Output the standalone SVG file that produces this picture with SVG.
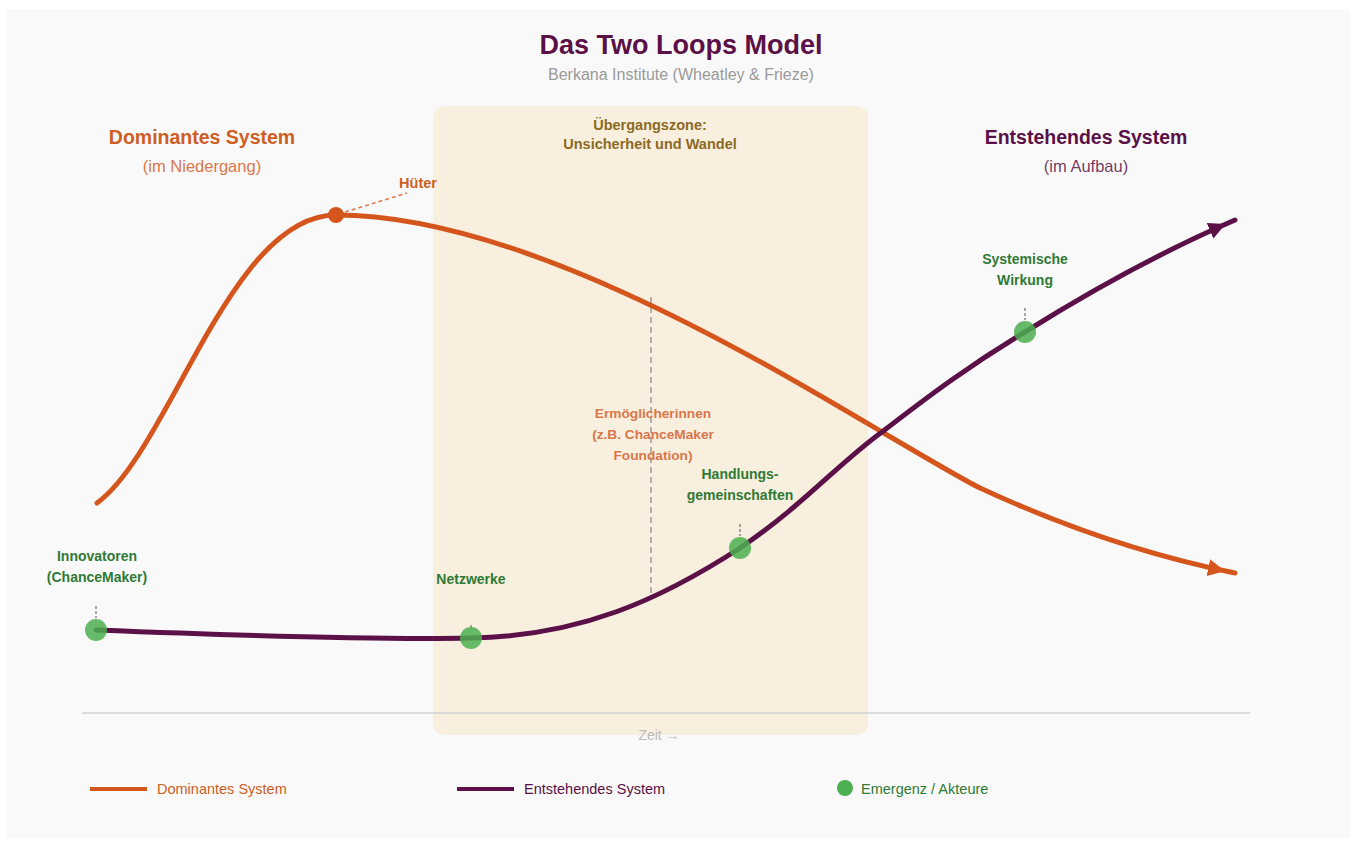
<svg xmlns="http://www.w3.org/2000/svg" width="1357" height="841" viewBox="0 0 1357 841">
<style>
text{font-family:"Liberation Sans",Arial,sans-serif;text-anchor:middle}
.b{font-weight:bold}
.or{fill:#cf5e24}
.orl{fill:#d9774a}
.pu{fill:#5b1047}
.gr{fill:#2f7a34;font-weight:bold;font-size:14px}
.dot{fill:#4caf50;fill-opacity:0.85}
.tick{stroke:#555;stroke-width:1;stroke-dasharray:3,2}
.leg{font-size:14.5px;text-anchor:start}
</style>
<defs>
<marker id="ao" viewBox="0 0 10 10" refX="16" refY="5" markerWidth="17" markerHeight="17" markerUnits="userSpaceOnUse" orient="auto"><path d="M0,0 L10,5 L0,10 z" fill="#d4561c"/></marker>
<marker id="ap" viewBox="0 0 10 10" refX="16" refY="5" markerWidth="17" markerHeight="17" markerUnits="userSpaceOnUse" orient="auto"><path d="M0,0 L10,5 L0,10 z" fill="#5b1047"/></marker>
</defs>
<rect x="0" y="0" width="1357" height="841" fill="#ffffff"/>
<rect x="7" y="9" width="1343" height="829" fill="#f9f9fa"/>
<g id="zone">
<rect x="433" y="106" width="435" height="629" rx="12" fill="#f8efdf"/>
<text x="650" y="130" class="b" font-size="14.5" fill="#8b6a1f">Übergangszone:</text>
<text x="650" y="149" class="b" font-size="14.5" fill="#8b6a1f">Unsicherheit und Wandel</text>
</g>
<g id="title">
<text x="681" y="54" class="b pu" font-size="27">Das Two Loops Model</text>
<text x="681" y="80" font-size="16" fill="#9a9a9a">Berkana Institute (Wheatley &amp; Frieze)</text>
</g>
<g id="header-dominant">
<text x="202" y="144" class="b or" font-size="19.5">Dominantes System</text>
<text x="202" y="172" class="orl" font-size="16.5">(im Niedergang)</text>
</g>
<g id="header-emerging">
<text x="1086" y="144" class="b pu" font-size="19.5">Entstehendes System</text>
<text x="1086" y="172" class="pu" font-size="16.5" fill-opacity="0.85">(im Aufbau)</text>
</g>
<g id="axis">
<line x1="82" y1="713" x2="1250" y2="713" stroke="#d0d0d0" stroke-width="1.5"/>
<text x="659" y="740" font-size="14" fill="#bbbbbb">Zeit →</text>
</g>
<g id="connectors">
<line x1="651" y1="297" x2="651" y2="598" stroke="#999" stroke-width="1.5" stroke-dasharray="6,4"/>
<line x1="345" y1="212" x2="407" y2="193" stroke="#d9774a" stroke-width="1.5" stroke-dasharray="4,3"/>
<path d="M97,503 C170,450 230,215 336,215 C520,215 760,360 882,432 C930,460 960,478 980,488 C1060,525 1150,556 1235,573" fill="none" stroke="#d4561c" stroke-width="5" stroke-linecap="round" marker-end="url(#ao)"/>
<path d="M96,630 C250,636 380,640 471,638 C580,636 660,600 740,548 C800,508 840,462 882,432 C930,395 970,365 1025,332 C1100,285 1170,248 1235,220" fill="none" stroke="#5b1047" stroke-width="5" stroke-linecap="round" marker-end="url(#ap)"/>
</g>
<g id="hueter">
<circle cx="336" cy="215" r="8" fill="#d4561c"/>
<text x="418" y="188" class="b or" font-size="14.5">Hüter</text>
</g>
<g id="ermoeglicherinnen">
<text x="653" y="418" class="b orl" font-size="13.7">Ermöglicherinnen</text>
<text x="653" y="439" class="b orl" font-size="13.7">(z.B. ChanceMaker</text>
<text x="653" y="460" class="b orl" font-size="13.7">Foundation)</text>
</g>
<g id="innovatoren">
<line class="tick" x1="96" y1="606" x2="96" y2="618"/>
<circle class="dot" cx="96" cy="630" r="11"/>
<text x="97" y="561" class="gr">Innovatoren</text>
<text x="97" y="582" class="gr">(ChanceMaker)</text>
</g>
<g id="netzwerke">
<line class="tick" x1="471" y1="625" x2="471" y2="630"/>
<circle class="dot" cx="471" cy="638" r="11"/>
<text x="471" y="584" class="gr">Netzwerke</text>
</g>
<g id="handlungsgemeinschaften">
<line class="tick" x1="740" y1="524" x2="740" y2="536"/>
<circle class="dot" cx="740" cy="548" r="11"/>
<text x="740" y="479" class="gr">Handlungs-</text>
<text x="740" y="500" class="gr">gemeinschaften</text>
</g>
<g id="systemische-wirkung">
<line class="tick" x1="1025" y1="308" x2="1025" y2="320"/>
<circle class="dot" cx="1025" cy="332" r="11"/>
<text x="1025" y="264" class="gr">Systemische</text>
<text x="1025" y="285" class="gr">Wirkung</text>
</g>
<g id="legend">
<line x1="90" y1="789" x2="147" y2="789" stroke="#d4561c" stroke-width="4"/>
<text x="157" y="794" class="leg or">Dominantes System</text>
<line x1="457" y1="789" x2="514" y2="789" stroke="#5b1047" stroke-width="4"/>
<text x="524" y="794" class="leg pu">Entstehendes System</text>
<circle cx="845" cy="788" r="8" fill="#4caf50"/>
<text x="861" y="794" class="leg" fill="#2f7a34">Emergenz / Akteure</text>
</g>
</svg>
